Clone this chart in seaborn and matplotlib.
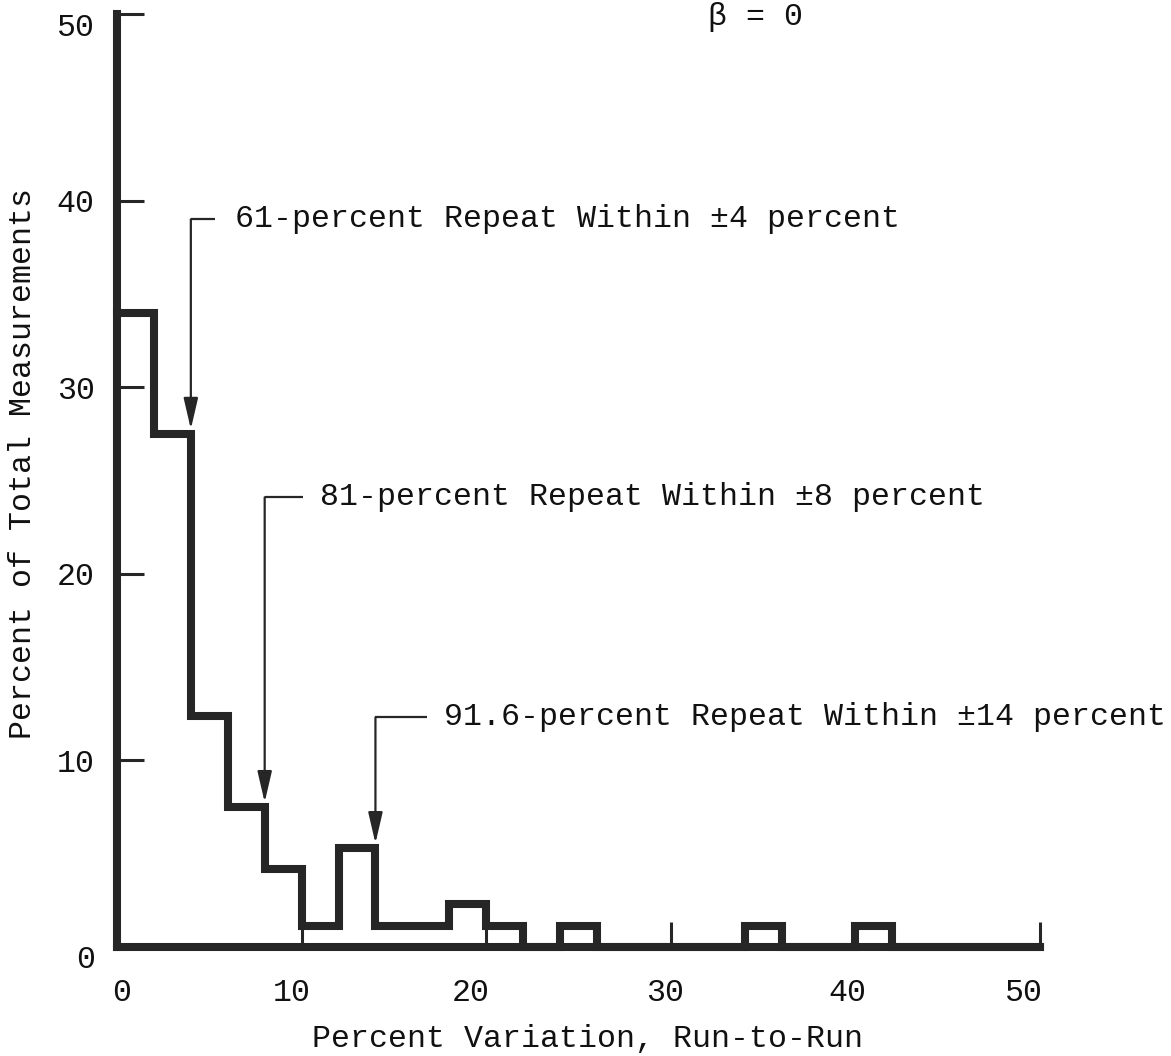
import numpy as np
import pandas as pd
import matplotlib
matplotlib.use("Agg")
import matplotlib.pyplot as plt
import seaborn as sns
from matplotlib.transforms import ScaledTranslation

# ---- data ----
bin_edges = list(range(0, 52, 2))
bin_heights = [34.0, 27.5, 12.4, 7.5, 4.2, 1.1, 5.3, 1.1, 1.1, 2.3,
               1.1, 0.0, 1.1, 0.0, 0.0, 0.0, 0.0, 1.1, 0.0, 0.0,
               1.1, 0.0, 0.0, 0.0, 0.0]
x_ticks = [0, 10, 20, 30, 40, 50]
y_ticks = [0, 10, 20, 30, 40, 50]
annot_texts = ["61-percent Repeat Within \u00b14 percent",
               "81-percent Repeat Within \u00b18 percent",
               "91.6-percent Repeat Within \u00b114 percent"]
annot_x = [4, 8, 14]
annot_top = [39.0, 24.1, 12.3]
annot_hook_end = [5.3, 10.1, 16.8]
annot_text_x = [6.4, 11.0, 17.7]
x_label = "Percent Variation, Run-to-Run"
y_label = "Percent of Total Measurements"
beta_text = "\u03b2 = 0"

sns.set_style("ticks")
plt.rcParams['font.family'] = ['Liberation Mono', 'DejaVu Sans Mono', 'DejaVu Sans']

INK = "#262626"
TXT = "#111111"
FS = 22.8

df = pd.DataFrame({
    "center": [e + 1 for e in bin_edges[:-1]],
    "height": bin_heights,
})

fig = plt.figure(figsize=(11.71, 10.56), dpi=100)
W, H = 1171, 1056
ax = fig.add_axes([117 / W, (H - 947) / H, 923 / W, 933 / H])

sns.histplot(data=df, x="center", weights="height", bins=bin_edges,
             element="step", fill=False, color=INK, linewidth=5.8, ax=ax)
for ln in ax.lines:
    ln.set_clip_on(False)
    ln.set_solid_joinstyle("miter")
    ln.set_solid_capstyle("projecting")

ax.set_xlim(0, 50)
ax.set_ylim(0, 50)
ax.set_xticks(x_ticks)
ax.set_yticks(y_ticks)
ax.set_xticklabels([str(v) for v in x_ticks])
ax.set_yticklabels([str(v) for v in y_ticks])

for s in ["top", "right"]:
    ax.spines[s].set_visible(False)
for s in ["left", "bottom"]:
    ax.spines[s].set_linewidth(5.8)
    ax.spines[s].set_color(INK)
    ax.spines[s].set_capstyle("projecting")

ax.tick_params(axis="x", direction="in", length=18, width=2.2, color=INK,
               pad=22, labelsize=FS, labelcolor=TXT)
ax.tick_params(axis="y", direction="in", length=19.5, width=2.2, color=INK,
               pad=16, labelsize=FS, labelcolor=TXT)

# small per-label offsets (px) like the typewritten original
x_off = [5, -10, -15, -6, -8, -16]
for lbl, dx in zip(ax.get_xticklabels(), x_off):
    lbl.set_transform(lbl.get_transform() + ScaledTranslation(dx / 100, 0, fig.dpi_scale_trans))
y_off = [-10, 0, 0, 0, 0, -10]
for lbl, dy in zip(ax.get_yticklabels(), y_off):
    lbl.set_transform(lbl.get_transform() + ScaledTranslation(0, dy / 100, fig.dpi_scale_trans))

ax.set_xlabel(x_label, fontsize=FS, color=TXT)
ax.set_ylabel(y_label, fontsize=FS, color=TXT)
ax.xaxis.set_label_coords(0.51, -0.083)
ax.yaxis.set_label_coords(-0.086, 0.518)

# annotations with hooked arrows
for txt, xa, top, hook, tx in zip(annot_texts, annot_x, annot_top,
                                  annot_hook_end, annot_text_x):
    tip = bin_heights[bin_edges.index(xa) - 1] + 0.25
    ax.annotate("", xy=(xa, tip), xytext=(xa, top),
                arrowprops=dict(arrowstyle="-|>,head_length=0.95,head_width=0.22",
                                mutation_scale=20, lw=1.6, color=INK,
                                shrinkA=0, shrinkB=0))
    ax.plot([xa, hook], [top, top], color=INK, lw=1.6, solid_capstyle="butt")
    ax.text(tx, top, txt, fontsize=FS, color=TXT, va="center", ha="left")

fig.text(755 / W, 1 - 17 / H, beta_text, fontsize=FS, color=TXT,
         ha="center", va="center")

fig.savefig("out.png", dpi=100, facecolor="white")
